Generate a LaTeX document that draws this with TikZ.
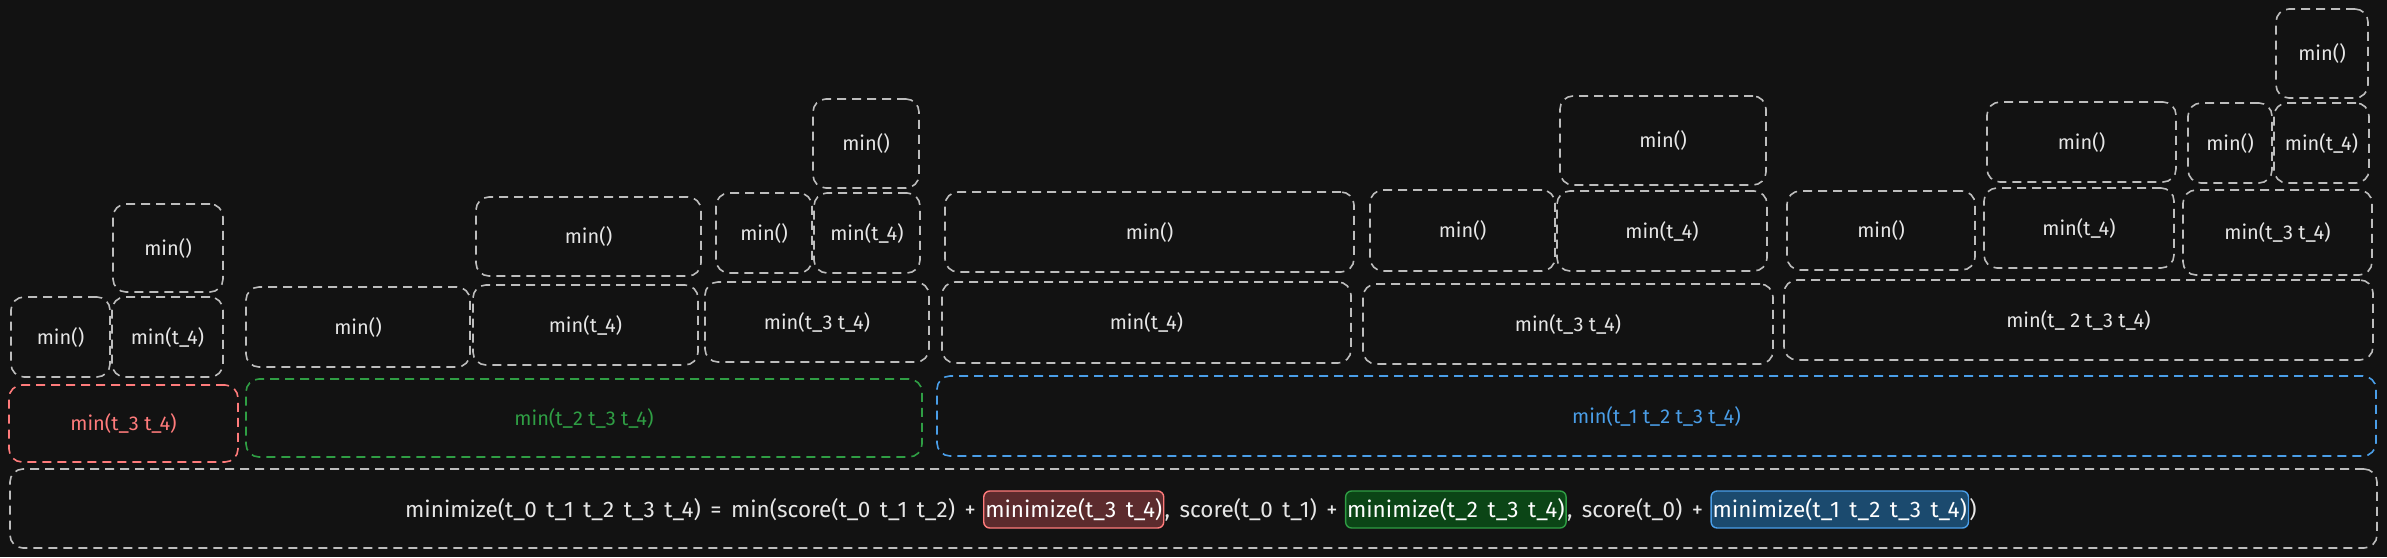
\documentclass[tikz,border=0pt]{standalone}
\usepackage{fontspec}
\setmainfont{Fira Sans}
\newfontfamily\eqfont[WordSpace=1.6]{Fira Sans}
\definecolor{bg}{HTML}{121212}
\definecolor{boxgray}{HTML}{BDBDBD}
\definecolor{labelgray}{HTML}{E6E6E6}
\definecolor{redline}{HTML}{FF7B7B}
\definecolor{greenline}{HTML}{2F9E44}
\definecolor{blueline}{HTML}{4A9EE8}
\definecolor{redfill}{HTML}{5C2B2D}
\definecolor{greenfill}{HTML}{0B4516}
\definecolor{bluefill}{HTML}{1B4A6E}
\begin{document}
\begin{tikzpicture}[x=1pt,y=-1pt,
  box/.style={draw=boxgray, line width=1.6pt, dash pattern=on 9pt off 6pt,
    rounded corners=13pt, inner sep=0pt, text=labelgray,
    font=\fontsize{20}{23}\selectfont},
  redbox/.style={box, draw=redline, text=redline},
  greenbox/.style={box, draw=greenline, text=greenline},
  bluebox/.style={box, draw=blueline, text=blueline},
  plain/.style={inner sep=0pt, text=labelgray, font=\eqfont\fontsize{22.5}{25}\selectfont, anchor=base west},
  hl/.style={plain, inner xsep=1.5pt, inner ysep=4pt, text height=22pt, text depth=7pt,
    rounded corners=6pt, line width=1.4pt, text=white},
  hlred/.style={hl, draw=redline, fill=redfill},
  hlgreen/.style={hl, draw=greenline, fill=greenfill},
  hlblue/.style={hl, draw=blueline, fill=bluefill},
]
\fill[bg] (0,0) rectangle (2387,557);
\useasboundingbox (0,0) rectangle (2387,557);

% red group
\node[box, minimum width=99pt, minimum height=80pt] (a1) at (60.5,337) {min()};
\node[box, minimum width=111pt, minimum height=80pt] (a2) at (167.5,337) {min(t\_4)};
\node[box, minimum width=110pt, minimum height=88pt] (a3) at (168,248) {min()};
\node[redbox, minimum width=229pt, minimum height=77pt] (r) at (123.5,423.5) {min(t\_3 t\_4)};

% green group
\node[box, minimum width=224pt, minimum height=80pt] (g1) at (358,327) {min()};
\node[box, minimum width=225pt, minimum height=80pt] (g2) at (585.5,325) {min(t\_4)};
\node[box, minimum width=224pt, minimum height=80pt] (g3) at (817,322) {min(t\_3 t\_4)};
\node[box, minimum width=225pt, minimum height=79pt] (g4) at (588.5,236.5) {min()};
\node[box, minimum width=96pt, minimum height=80pt] (g5) at (764,233) {min()};
\node[box, minimum width=106pt, minimum height=80pt] (g6) at (867,233) {min(t\_4)};
\node[box, minimum width=106pt, minimum height=89pt] (g7) at (866,143.5) {min()};
\node[greenbox, minimum width=676pt, minimum height=78pt] (g) at (584,418) {min(t\_2 t\_3 t\_4)};

% blue group
\node[box, minimum width=409pt, minimum height=81pt] (b1) at (1146.5,322.5) {min(t\_4)};
\node[box, minimum width=409pt, minimum height=80pt] (b2) at (1149.5,232) {min()};
\node[box, minimum width=410pt, minimum height=80pt] (b3) at (1568,324) {min(t\_3 t\_4)};
\node[box, minimum width=185pt, minimum height=81pt] (b4) at (1462.5,230.5) {min()};
\node[box, minimum width=210pt, minimum height=80pt] (b5) at (1662,231) {min(t\_4)};
\node[box, minimum width=206pt, minimum height=89pt] (b6) at (1663,140.5) {min()};
\node[box, minimum width=589pt, minimum height=80pt] (b7) at (2078.5,320) {min(t\_ 2 t\_3 t\_4)};
\node[box, minimum width=188pt, minimum height=79pt] (b8) at (1881,230.5) {min()};
\node[box, minimum width=190pt, minimum height=80pt] (b9) at (2079,228) {min(t\_4)};
\node[box, minimum width=189pt, minimum height=85pt] (b10) at (2277.5,232.5) {min(t\_3 t\_4)};
\node[box, minimum width=189pt, minimum height=80pt] (b11) at (2081.5,142) {min()};
\node[box, minimum width=84pt, minimum height=80pt] (b12) at (2230,143) {min()};
\node[box, minimum width=95pt, minimum height=80pt] (b13) at (2321.5,143) {min(t\_4)};
\node[box, minimum width=92pt, minimum height=89pt] (b14) at (2322,53.5) {min()};
\node[bluebox, minimum width=1439pt, minimum height=80pt] (b) at (1656.5,416) {min(t\_1 t\_2 t\_3 t\_4)};

% bottom equation
\node[box, minimum width=2367pt, minimum height=79pt] (eq) at (1193.5,508.5) {};
\node[plain] (p1) at (405,517) {minimize(t\_0 t\_1 t\_2 t\_3 t\_4) = min(score(t\_0 t\_1 t\_2) +\kern7pt};
\node[hlred] (h1) at (p1.base east) {minimize(t\_3 t\_4)};
\node[plain] (p2) at (h1.base east) {, score(t\_0 t\_1) +\kern7pt};
\node[hlgreen] (h2) at (p2.base east) {minimize(t\_2 t\_3 t\_4)};
\node[plain] (p3) at (h2.base east) {, score(t\_0) +\kern7pt};
\node[hlblue] (h3) at (p3.base east) {minimize(t\_1 t\_2 t\_3 t\_4)};
\node[plain] (p4) at (h3.base east) {)};
\end{tikzpicture}
\end{document}
